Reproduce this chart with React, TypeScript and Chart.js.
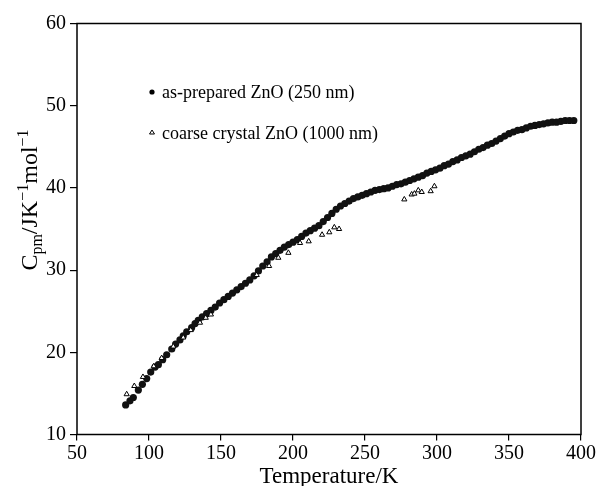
import React, { useEffect, useRef } from "react";
import { Chart, registerables } from "chart.js";

Chart.register(...registerables);

const FONT = "'Liberation Serif', 'Times New Roman', serif";

// as-prepared ZnO (250 nm)
const preparedT = [
  83.8, 86.8, 89.1, 92.6, 95.4, 98.4, 101.2, 104.2, 106.5, 109.5, 112.3, 115.8, 118.5, 121.5, 123.8, 126.2, 129.6, 132.0, 134.2,
  137, 140, 143, 146, 149, 152, 155, 158, 161, 164, 167, 170, 173, 176, 179, 182, 185, 188, 191, 194, 197, 200,
  203, 206, 209, 212, 215, 218, 221, 224, 227, 230, 233, 236, 239, 242, 245, 248, 251, 254, 257, 260,
  263, 266, 269, 272, 275, 278, 281, 284, 287, 290, 293, 296, 299, 302, 305, 308, 311, 314, 317, 320,
  323, 326, 329, 332, 335, 338, 341, 344, 347, 350, 353, 356, 359, 362, 365, 368, 371, 374, 377, 380,
  383, 386, 389, 392, 395,
];
const preparedCp = [
  13.6, 14.1, 14.5, 15.4, 16.1, 16.8, 17.6, 18.2, 18.5, 19.1, 19.7, 20.4, 21.0, 21.5, 22.0, 22.5, 23.0, 23.5, 23.9,
  24.3, 24.7, 25.1, 25.5, 26.0, 26.4, 26.8, 27.2, 27.6, 28.0, 28.4, 28.8, 29.3, 29.9, 30.5, 31.0, 31.6, 32.0, 32.4, 32.8, 33.1, 33.4,
  33.7, 34.1, 34.5, 34.8, 35.1, 35.4, 35.9, 36.4, 36.9, 37.4, 37.8, 38.1, 38.4, 38.7, 38.9, 39.1, 39.3, 39.5, 39.7, 39.8,
  39.9, 40.0, 40.2, 40.4, 40.5, 40.7, 40.9, 41.1, 41.3, 41.5, 41.8, 42.0, 42.2, 42.4, 42.7, 42.9, 43.2, 43.4, 43.7, 43.9,
  44.1, 44.4, 44.7, 44.9, 45.2, 45.4, 45.7, 46.0, 46.3, 46.6, 46.8, 47.0, 47.1, 47.3, 47.5, 47.6, 47.7, 47.8, 47.9, 48.0,
  48.0, 48.1, 48.2, 48.2, 48.2,
];

// coarse crystal ZnO (1000 nm)
const coarseT = [
  84.5, 89.8, 95.8, 103.3, 108.8, 116.9, 123.8, 129.0, 135.4, 139.4, 143.0,
  174.8, 183.4, 189.8, 196.8, 204.9, 210.9, 220.2, 225.2, 228.7, 232.0,
  277.3, 282.4, 284.3, 287.0, 289.4, 295.6, 298.2,
];
const coarseCp = [
  14.9, 15.9, 17.0, 18.3, 19.3, 20.7, 21.8, 22.7, 23.6, 24.2, 24.6,
  29.4, 30.5, 31.5, 32.1, 33.3, 33.5, 34.3, 34.6, 35.2, 35.0,
  38.6, 39.2, 39.3, 39.7, 39.5, 39.6, 40.2,
];

const xTicks = [50, 100, 150, 200, 250, 300, 350, 400];
const yTicks = [10, 20, 30, 40, 50, 60];
const seriesLabels = ["as-prepared ZnO (250 nm)", "coarse crystal ZnO (1000 nm)"];
const xTitle = "Temperature/K";

const framePlugin = {
  id: "frame",
  afterDraw(chart: any) {
    const { ctx, chartArea } = chart;
    ctx.save();
    ctx.strokeStyle = "#000";
    ctx.lineWidth = 1.5;
    ctx.strokeRect(chartArea.left, chartArea.top, chartArea.right - chartArea.left, chartArea.bottom - chartArea.top);
    ctx.restore();
  },
};

const yTitlePlugin = {
  id: "yTitle",
  afterDraw(chart: any) {
    const { ctx } = chart;
    const parts: [string, number, number][] = [
      ["C", 24, 0],
      ["pm", 16, 5],
      ["/JK", 24, 0],
      ["\u22121", 16, -9],
      ["mol", 24, 0],
      ["\u22121", 16, -9],
    ];
    ctx.save();
    ctx.fillStyle = "#000";
    ctx.textBaseline = "alphabetic";
    let total = 0;
    for (const [t, s] of parts) {
      ctx.font = `${s}px ${FONT}`;
      total += ctx.measureText(t).width;
    }
    const cx = 37;
    const cy = 200;
    ctx.translate(cx, cy);
    ctx.rotate(-Math.PI / 2);
    let x = -total / 2;
    for (const [t, s, dy] of parts) {
      ctx.font = `${s}px ${FONT}`;
      ctx.fillText(t, x, dy);
      x += ctx.measureText(t).width;
    }
    ctx.restore();
  },
};

const legendPlugin = {
  id: "customLegend",
  afterDraw(chart: any) {
    const { ctx } = chart;
    ctx.save();
    ctx.fillStyle = "#000";
    ctx.strokeStyle = "#000";
    ctx.beginPath();
    ctx.arc(152, 92, 2.6, 0, Math.PI * 2);
    ctx.fill();
    ctx.lineWidth = 1;
    ctx.beginPath();
    ctx.moveTo(152, 130);
    ctx.lineTo(154.5, 134);
    ctx.lineTo(149.5, 134);
    ctx.closePath();
    ctx.stroke();
    ctx.font = `18px ${FONT}`;
    ctx.textBaseline = "middle";
    ctx.fillText(seriesLabels[0], 162, 93);
    ctx.fillText(seriesLabels[1], 162, 134);
    ctx.restore();
  },
};

export default function App() {
  const ref = useRef<HTMLCanvasElement | null>(null);
  useEffect(() => {
    document.body.style.margin = "0";
    if (!ref.current) return;
    const chart = new Chart(ref.current, {
      type: "scatter",
      data: {
        datasets: [
          {
            label: seriesLabels[0],
            data: preparedT.map((t, i) => ({ x: t, y: preparedCp[i] })),
            pointStyle: "circle",
            pointRadius: 3.6,
            backgroundColor: "#111",
            borderColor: "#111",
            borderWidth: 0,
            order: 2,
          },
          {
            label: seriesLabels[1],
            data: coarseT.map((t, i) => ({ x: t, y: coarseCp[i] })),
            pointStyle: "triangle",
            pointRadius: 3,
            backgroundColor: "#fff",
            borderColor: "#000",
            borderWidth: 1,
            order: 1,
          },
        ],
      },
      options: {
        animation: false,
        responsive: false,
        layout: { padding: { top: 23.5, right: 20, left: 0, bottom: 0 } },
        plugins: { legend: { display: false }, tooltip: { enabled: false } },
        scales: {
          x: {
            type: "linear",
            min: 50,
            max: 400,
            afterBuildTicks: (s: any) => {
              s.ticks = xTicks.map((v) => ({ value: v }));
            },
            afterFit: (s: any) => {
              s.height = 51.5;
            },
            border: { display: false },
            grid: { drawOnChartArea: false, drawTicks: true, tickLength: 6, color: "#000", lineWidth: 1.2 },
            ticks: { color: "#000", font: { family: FONT, size: 20 }, padding: 1, maxRotation: 0 },
            title: {
              display: true,
              text: xTitle,
              color: "#000",
              font: { family: FONT, size: 23 },
              padding: { top: 0, bottom: -5 },
            },
          },
          y: {
            type: "linear",
            min: 10,
            max: 60,
            afterBuildTicks: (s: any) => {
              s.ticks = yTicks.map((v) => ({ value: v }));
            },
            afterFit: (s: any) => {
              s.width = 77;
            },
            border: { display: false },
            grid: { drawOnChartArea: false, drawTicks: true, tickLength: 7, color: "#000", lineWidth: 1.2 },
            ticks: { color: "#000", font: { family: FONT, size: 20 }, padding: 4 },
          },
        },
      },
      plugins: [framePlugin, yTitlePlugin, legendPlugin],
    } as any);
    return () => chart.destroy();
  }, []);
  return (
    <div style={{ width: 601, height: 486 }}>
      <canvas ref={ref} width={601} height={486} />
    </div>
  );
}
